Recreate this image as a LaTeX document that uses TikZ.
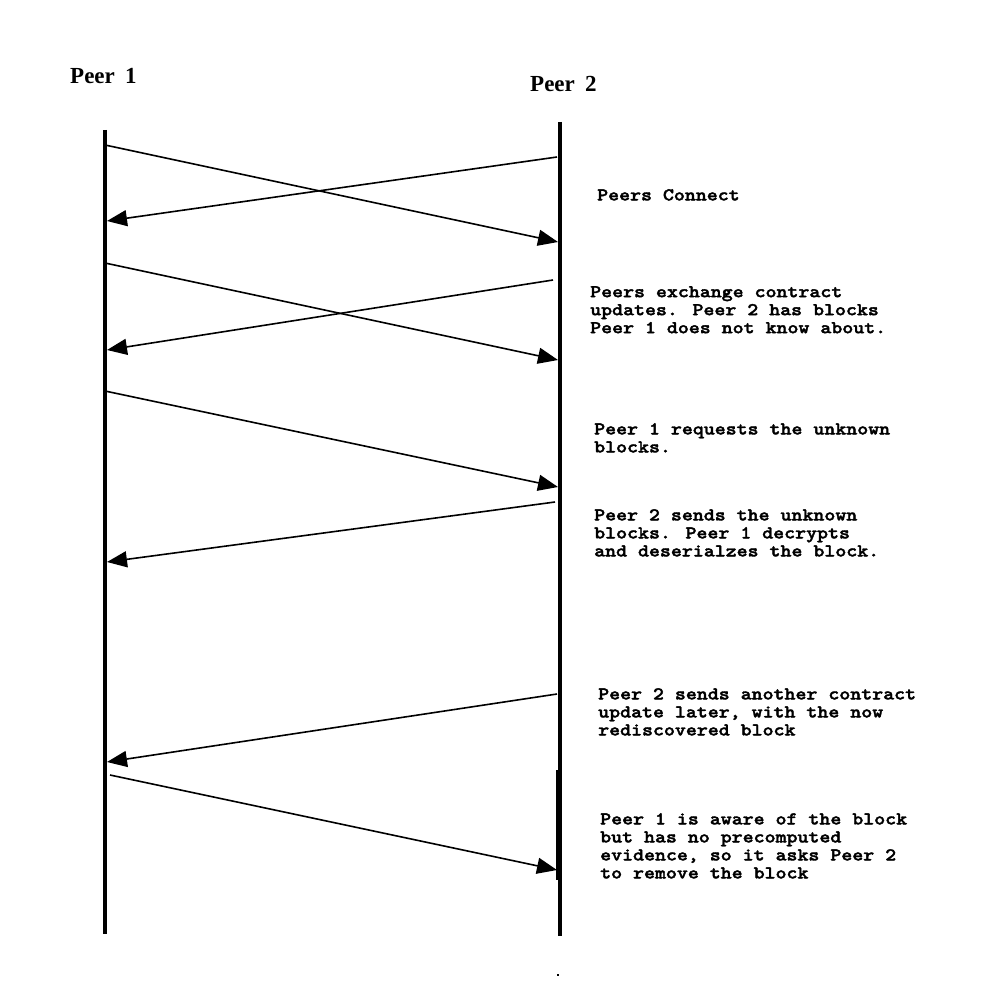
\documentclass[tikz,border=0pt]{standalone}
\usepackage{fontspec}
\usetikzlibrary{arrows.meta}
\newfontfamily\monofam{lmmonolt10-bold.otf}[FakeStretch=1.16,FakeBold=2]
\newfontfamily\seriffam{Liberation Serif}
\begin{document}
\begin{tikzpicture}[x=1pt,y=-1pt,
  lifeline/.style={line width=4pt},
  msg/.style={line width=1.6pt,-{Triangle[length=20pt,width=16pt]}},
  note/.style={anchor=north west,inner sep=0pt,align=left,
    font=\monofam\fontsize{18}{18}\selectfont},
  title/.style={anchor=base west,inner sep=0pt,
    font=\seriffam\bfseries\fontsize{23}{26}\selectfont}]
\useasboundingbox[fill=white] (0,0) rectangle (1000,1000);
% titles
\node[title] (t1) at (70,84) {Peer\hspace{0.45em}1};
\node[title] (t2) at (530,92) {Peer\hspace{0.45em}2};
% lifelines
\coordinate (p1top) at (105,130);
\coordinate (p1bot) at (105,934);
\coordinate (p2top) at (560,122);
\coordinate (p2bot) at (560,936);
\draw[lifeline] (p1top) -- (p1bot);
\draw[lifeline] (p2top) -- (p2bot);
\coordinate (p2segA) at (558,770);
\coordinate (p2segB) at (558,880);
\draw[line width=4.5pt] (p2segA) -- (p2segB);
% message end points
\coordinate (a1s) at (105,145); \coordinate (a1e) at (558,242);
\coordinate (a2s) at (557,157); \coordinate (a2e) at (107,221);
\coordinate (a3s) at (105,263); \coordinate (a3e) at (558,360);
\coordinate (a4s) at (553,280); \coordinate (a4e) at (107,350);
\coordinate (a5s) at (105,391); \coordinate (a5e) at (558,487);
\coordinate (a6s) at (555,502); \coordinate (a6e) at (107,562);
\coordinate (a7s) at (557,694); \coordinate (a7e) at (107,762);
\coordinate (a8s) at (110,775); \coordinate (a8e) at (557,870);
\draw[msg] (a1s) -- (a1e);
\draw[msg] (a2s) -- (a2e);
\draw[msg] (a3s) -- (a3e);
\draw[msg] (a4s) -- (a4e);
\draw[msg] (a5s) -- (a5e);
\draw[msg] (a6s) -- (a6e);
\draw[msg] (a7s) -- (a7e);
\draw[msg] (a8s) -- (a8e);
% notes
\node[note] (n1) at (597,189) {Peers Connect};
\node[note] (n2) at (590,286) {Peers exchange contract\\updates. Peer 2 has blocks\\Peer 1 does not know about.};
\node[note] (n3) at (594,423) {Peer 1 requests the unknown\\blocks.};
\node[note] (n4) at (594,509) {Peer 2 sends the unknown\\blocks. Peer 1 decrypts\\and deserialzes the block.};
\node[note] (n5) at (598,688) {Peer 2 sends another contract\\update later, with the now\\rediscovered block};
\node[note] (n6) at (600,813) {Peer 1 is aware of the block\\but has no precomputed\\evidence, so it asks Peer 2\\to remove the block};
% small artifact dot
\fill (557,974) rectangle (559,976);
\end{tikzpicture}
\end{document}
